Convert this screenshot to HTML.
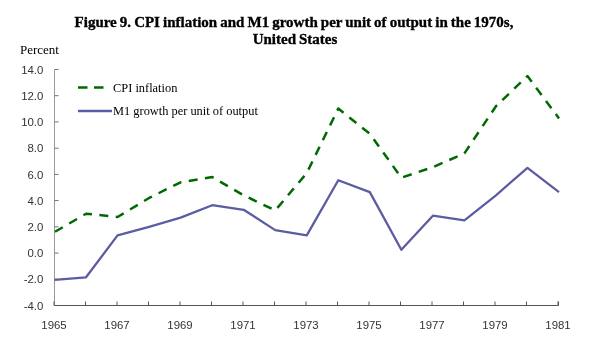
<!DOCTYPE html>
<html><head><meta charset="utf-8"><style>
html,body{margin:0;padding:0;background:#fff;width:600px;height:364px;overflow:hidden}
svg{display:block;will-change:transform}
</style></head><body>
<svg width="600" height="364" viewBox="0 0 600 364">
<g font-family="Liberation Serif, serif" font-weight="bold" font-size="15" fill="#000" stroke="#000" stroke-width="0.35" text-anchor="middle">
<text x="294" y="27" word-spacing="-0.7">Figure 9. CPI inflation and M1 growth per unit of output in the 1970s,</text>
<text x="295" y="44" word-spacing="-0.7">United States</text>
</g>
<text x="20" y="54" font-family="Liberation Serif, serif" font-size="13" fill="#000">Percent</text>
<g font-family="Liberation Sans, sans-serif" font-size="11.4" fill="#333">
<text x="43.3" y="309.6" text-anchor="end">-4.0</text><text x="43.3" y="283.4" text-anchor="end">-2.0</text><text x="43.3" y="257.2" text-anchor="end">0.0</text><text x="43.3" y="230.9" text-anchor="end">2.0</text><text x="43.3" y="204.7" text-anchor="end">4.0</text><text x="43.3" y="178.5" text-anchor="end">6.0</text><text x="43.3" y="152.3" text-anchor="end">8.0</text><text x="43.3" y="126.0" text-anchor="end">10.0</text><text x="43.3" y="99.8" text-anchor="end">12.0</text><text x="43.3" y="73.6" text-anchor="end">14.0</text>
<text x="54.0" y="329" text-anchor="middle">1965</text><text x="117.0" y="329" text-anchor="middle">1967</text><text x="180.0" y="329" text-anchor="middle">1969</text><text x="243.0" y="329" text-anchor="middle">1971</text><text x="306.0" y="329" text-anchor="middle">1973</text><text x="369.0" y="329" text-anchor="middle">1975</text><text x="432.0" y="329" text-anchor="middle">1977</text><text x="495.0" y="329" text-anchor="middle">1979</text><text x="558.0" y="329" text-anchor="middle">1981</text>
</g>
<g stroke="#9a9a9a" stroke-width="1" fill="none">
<polyline points="54.5,69.5 54.5,305.5"/>
</g>
<g stroke="#707070" stroke-width="1" fill="none">
<line x1="54.5" y1="305.5" x2="58.5" y2="305.5"/><line x1="54.5" y1="279.3" x2="58.5" y2="279.3"/><line x1="54.5" y1="253.1" x2="58.5" y2="253.1"/><line x1="54.5" y1="226.8" x2="58.5" y2="226.8"/><line x1="54.5" y1="200.6" x2="58.5" y2="200.6"/><line x1="54.5" y1="174.4" x2="58.5" y2="174.4"/><line x1="54.5" y1="148.2" x2="58.5" y2="148.2"/><line x1="54.5" y1="121.9" x2="58.5" y2="121.9"/><line x1="54.5" y1="95.7" x2="58.5" y2="95.7"/><line x1="54.5" y1="69.5" x2="58.5" y2="69.5"/>
</g>
<g stroke="#555" stroke-width="1" fill="none">
<polyline points="54.5,305.5 558.5,305.5 558.5,301.5"/>
<line x1="54.0" y1="305.5" x2="54.0" y2="301.5"/><line x1="85.5" y1="305.5" x2="85.5" y2="301.5"/><line x1="117.0" y1="305.5" x2="117.0" y2="301.5"/><line x1="148.5" y1="305.5" x2="148.5" y2="301.5"/><line x1="180.0" y1="305.5" x2="180.0" y2="301.5"/><line x1="211.5" y1="305.5" x2="211.5" y2="301.5"/><line x1="243.0" y1="305.5" x2="243.0" y2="301.5"/><line x1="274.5" y1="305.5" x2="274.5" y2="301.5"/><line x1="306.0" y1="305.5" x2="306.0" y2="301.5"/><line x1="337.5" y1="305.5" x2="337.5" y2="301.5"/><line x1="369.0" y1="305.5" x2="369.0" y2="301.5"/><line x1="400.5" y1="305.5" x2="400.5" y2="301.5"/><line x1="432.0" y1="305.5" x2="432.0" y2="301.5"/><line x1="463.5" y1="305.5" x2="463.5" y2="301.5"/><line x1="495.0" y1="305.5" x2="495.0" y2="301.5"/><line x1="526.5" y1="305.5" x2="526.5" y2="301.5"/><line x1="558.0" y1="305.5" x2="558.0" y2="301.5"/>
</g>
<polyline points="54.50,279.93 86.03,277.31 117.56,235.36 149.09,226.83 180.62,217.66 212.16,205.20 243.69,209.79 275.22,230.11 306.75,235.36 338.28,180.29 369.81,192.09 401.34,249.78 432.88,215.69 464.41,220.28 495.94,195.37 527.47,167.83 559.00,192.09" fill="none" stroke="#5c5ca2" stroke-width="2.3" stroke-linejoin="round"/>
<polyline points="54.50,232.08 86.03,213.72 117.56,217.00 149.09,197.99 180.62,182.26 212.16,177.01 243.69,195.37 275.22,210.44 306.75,173.08 338.28,108.57 369.81,133.74 401.34,177.67 432.88,167.18 464.41,153.41 495.94,106.21 527.47,76.06 559.00,118.40" fill="none" stroke="#006a00" stroke-width="2.5" stroke-dasharray="9,7.43" stroke-dashoffset="-0.6" stroke-linejoin="round"/>
<line x1="78" y1="87.6" x2="104.5" y2="87.6" stroke="#006a00" stroke-width="2.5" stroke-dasharray="9.5,6.5"/>
<line x1="78" y1="111" x2="112" y2="111" stroke="#5c5ca2" stroke-width="2.3"/>
<g font-family="Liberation Serif, serif" font-size="12.4" fill="#000">
<text x="113" y="91.5">CPI inflation</text>
<text x="113" y="115">M1 growth per unit of output</text>
</g>
</svg>
</body></html>
